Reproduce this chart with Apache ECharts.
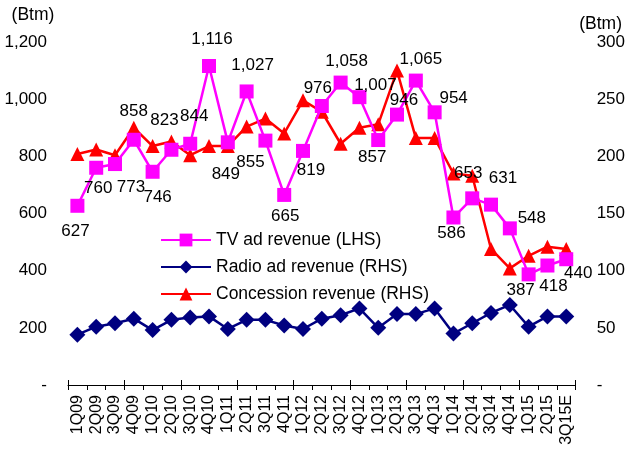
<!DOCTYPE html>
<html>
<head>
<meta charset="utf-8">
<script src="https://cdn.jsdelivr.net/npm/echarts@6/dist/echarts.min.js"></script>
<style>
  html, body { margin: 0; padding: 0; background: #fff; }
  #chart { width: 628px; height: 450px; }
</style>
</head>
<body>
<div id="chart"></div>
<script>
// quarters
const quarters = ['1Q09', '2Q09', '3Q09', '4Q09', '1Q10', '2Q10', '3Q10', '4Q10',
  '1Q11', '2Q11', '3Q11', '4Q11', '1Q12', '2Q12', '3Q12', '4Q12',
  '1Q13', '2Q13', '3Q13', '4Q13', '1Q14', '2Q14', '3Q14', '4Q14',
  '1Q15', '2Q15', '3Q15E']

// TV ad revenue (LHS)
const tvRevenue = [627, 760, 773, 858, 746, 823, 844, 1116, 849, 1027, 855, 665, 819, 976,
  1058, 1007, 857, 946, 1065, 954, 586, 653, 631, 548, 387, 418, 440]

// Radio ad revenue (RHS)
const radioRevenue = [44, 51, 54, 58, 48, 57, 59, 60, 49, 57, 57, 52, 49, 58,
  61, 67, 50, 62, 62, 67, 45, 54, 63, 70, 51, 60, 60]

// Concession revenue (RHS)
const concessionRevenue = [202, 206, 201, 225, 209, 213, 201, 209, 209, 226, 233, 220, 249, 239,
  211, 225, 228, 275, 216, 216, 185, 183, 119, 102, 113, 121, 119]

// TV label shift from the marker centre (px)
const tvLabelShift = [[-2, 26], [2, 21], [16, 23], [0, -28], [5, 26], [-7, -29], [4, -27],
  [3, -27], [-2, 32], [6, -26], [-15, 22], [1, 21], [8, 19], [-4, -18], [6, -21],
  [16, -12], [-6, 17], [7, -14], [5, -21], [19, -14], [-2, 16], [-4, -25], [12, -26],
  [22, -10], [-8, 16], [6, 21], [12, 14]]

const fmt = v => v === 0 ? '-' : v.toLocaleString('en-US')

const chart = echarts.init(document.getElementById('chart'))

const axisFont = 17

const option = {
  animation: false,
  textStyle: { fontFamily: 'Liberation Sans, Arial, sans-serif' },
  grid: { left: 68, right: 52, top: 42, bottom: 65 },
  legend: {
    orient: 'vertical',
    left: 155,
    top: 226,
    itemWidth: 50,
    itemHeight: 16,
    itemGap: 9,
    textStyle: { fontSize: 17.5, color: '#000' },
    data: ['TV ad revenue (LHS)', 'Radio ad revenue (RHS)', 'Concession revenue (RHS)']
  },
  xAxis: [
    {
      type: 'category',
      data: quarters,
      boundaryGap: true,
      axisLine: { lineStyle: { color: '#000', width: 1 } },
      axisTick: { show: true, length: 5, lineStyle: { color: '#000' } },
      axisLabel: { rotate: 90, interval: 0, fontSize: 16, color: '#000', margin: 10 }
    },
    {
      // inner half of the crossing ticks
      type: 'category',
      data: quarters,
      position: 'bottom',
      boundaryGap: true,
      axisLine: { show: false },
      axisTick: { show: true, inside: true, length: 5, lineStyle: { color: '#000' } },
      axisLabel: { show: false }
    }
  ],
  yAxis: [
    {
      type: 'value',
      min: 0, max: 1200, interval: 200,
      name: '(Btm)',
      nameLocation: 'end',
      nameGap: 18,
      nameTextStyle: { fontSize: 17.5, color: '#000', align: 'center', padding: [0, 0, 0, -70] },
      axisLine: { show: false },
      axisTick: { show: false },
      splitLine: { show: false },
      axisLabel: { fontSize: axisFont, color: '#000', margin: 21, formatter: fmt }
    },
    {
      type: 'value',
      min: 0, max: 300, interval: 50,
      name: '(Btm)',
      nameLocation: 'end',
      nameGap: 6,
      nameTextStyle: { fontSize: 17.5, color: '#000', align: 'center', padding: [0, 0, 0, 50] },
      axisLine: { show: false },
      axisTick: { show: false },
      splitLine: { show: false },
      axisLabel: { fontSize: axisFont, color: '#000', margin: 21, formatter: fmt }
    }
  ],
  series: [
    {
      name: 'TV ad revenue (LHS)',
      type: 'line',
      yAxisIndex: 0,
      symbol: 'rect',
      symbolSize: 14,
      z: 3,
      itemStyle: { color: '#FF00FF' },
      lineStyle: { color: '#FF00FF', width: 2.5 },
      data: tvRevenue.map((v, i) => ({
        value: v,
        label: {
          show: true,
          position: 'inside',
          offset: tvLabelShift[i],
          fontSize: axisFont,
          color: '#000',
          formatter: p => fmt(p.value)
        }
      }))
    },
    {
      name: 'Radio ad revenue (RHS)',
      type: 'line',
      yAxisIndex: 1,
      symbol: 'diamond',
      symbolSize: 16,
      itemStyle: { color: '#000080' },
      lineStyle: { color: '#000080', width: 2.5 },
      data: radioRevenue
    },
    {
      name: 'Concession revenue (RHS)',
      type: 'line',
      yAxisIndex: 1,
      symbol: 'triangle',
      symbolSize: 14,
      z: 2,
      itemStyle: { color: '#FF0000' },
      lineStyle: { color: '#FF0000', width: 2.5 },
      data: concessionRevenue
    }
  ]
}

chart.setOption(option)
</script>
</body>
</html>
